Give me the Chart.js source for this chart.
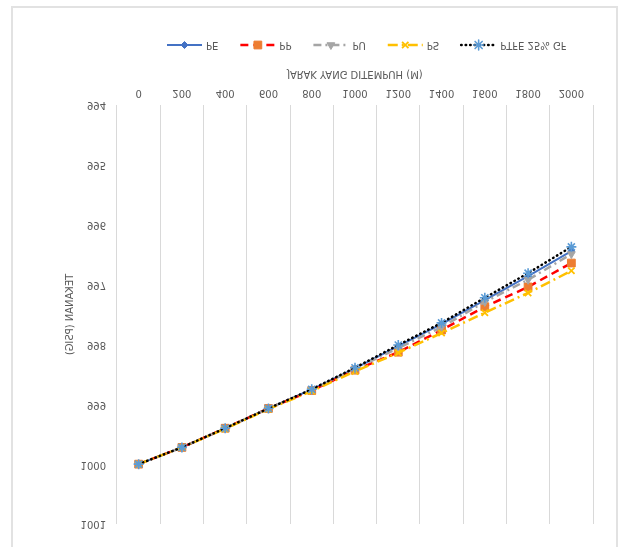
<!DOCTYPE html>
<html>
<head>
<meta charset="utf-8">
<script src="https://cdn.jsdelivr.net/npm/chart.js@4/dist/chart.umd.min.js"></script>
<style>
  html, body { margin: 0; padding: 0; background: #ffffff; overflow: hidden; }
  #wrap { position: relative; width: 618px; height: 547px; }
  #chart { position: absolute; left: 0; top: 0; transform: scaleY(-1); }
  #frame { position: absolute; left: 11px; top: 6px; width: 603px; height: 600px;
           border: 2px solid #e2e2e2; border-bottom: none; pointer-events: none; }
</style>
</head>
<body>
<div id="wrap">
  <canvas id="chart" width="618" height="547"></canvas>
  <div id="frame"></div>
</div>
<script>
// Distance travelled (m) along the pipe
const distances = [0, 200, 400, 600, 800, 1000, 1200, 1400, 1600, 1800, 2000];

// Pressure (psig) for each pipe material
const pressurePE   = [1000, 999.72, 999.40, 999.07, 998.75, 998.40, 998.03, 997.66, 997.26, 996.86, 996.44];
const pressurePP   = [1000, 999.72, 999.40, 999.07, 998.77, 998.43, 998.13, 997.76, 997.37, 997.04, 996.64];
const pressurePU   = [1000, 999.72, 999.40, 999.07, 998.76, 998.41, 998.06, 997.71, 997.29, 996.92, 996.49];
const pressurePS   = [1000, 999.72, 999.41, 999.08, 998.78, 998.45, 998.14, 997.81, 997.47, 997.14, 996.77];
const pressurePTFE = [1000, 999.72, 999.40, 999.07, 998.75, 998.39, 998.01, 997.64, 997.22, 996.81, 996.37];

const seriesNames = ['PE', 'PP', 'PU', 'PS', 'PTFE 25% GF'];

// Pressure axis range
const yMin = 994;
const yMax = 1001;

const TEXT = '#595959';
const FONT = '"DejaVu Sans", sans-serif';

// Legend drawn below the axis title: line sample with its marker, then the name
const lineLegend = {
  id: 'lineLegend',
  afterDraw(chart) {
    const ctx = chart.ctx;
    const y = 502;
    let x = 167;
    ctx.save();
    ctx.font = '10px ' + FONT;
    ctx.textBaseline = 'middle';
    ctx.textAlign = 'left';
    chart.data.datasets.forEach(ds => {
      ctx.save();
      ctx.beginPath();
      ctx.setLineDash(ds.borderDash || []);
      ctx.lineCap = ds.borderCapStyle || 'butt';
      ctx.lineWidth = ds.borderWidth;
      ctx.strokeStyle = ds.borderColor;
      ctx.moveTo(x, y);
      ctx.lineTo(x + 35, y);
      ctx.stroke();
      ctx.setLineDash([]);
      ctx.fillStyle = ds.pointBackgroundColor;
      ctx.strokeStyle = ds.pointBorderColor;
      ctx.lineWidth = ds.pointBorderWidth;
      Chart.helpers.drawPoint(ctx, {
        pointStyle: ds.pointStyle,
        radius: ds.pointRadius,
        borderWidth: ds.pointBorderWidth,
        rotation: 0
      }, x + 17.5, y);
      ctx.restore();
      ctx.fillStyle = TEXT;
      ctx.fillText(ds.label, x + 39, y);
      x += 39 + ctx.measureText(ds.label).width + 22;
    });
    ctx.restore();
  }
};

new Chart(document.getElementById('chart'), {
  type: 'line',
  data: {
    labels: distances.map(String),
    datasets: [
      {
        label: seriesNames[0], data: pressurePE,
        borderColor: '#4472C4', borderWidth: 2, borderDash: [],
        pointStyle: 'rectRot', pointRadius: 3.5, pointBorderWidth: 1,
        pointBackgroundColor: '#4472C4', pointBorderColor: '#4472C4', order: 4
      },
      {
        label: seriesNames[1], data: pressurePP,
        borderColor: '#FF0000', borderWidth: 2.5, borderDash: [8, 5],
        pointStyle: 'rect', pointRadius: 5.5, pointBorderWidth: 1,
        pointBackgroundColor: '#ED7D31', pointBorderColor: '#ED7D31', order: 3
      },
      {
        label: seriesNames[2], data: pressurePU,
        borderColor: '#A5A5A5', borderWidth: 2.5, borderDash: [8, 4, 2, 4],
        pointStyle: 'triangle', pointRadius: 4.5, pointBorderWidth: 1,
        pointBackgroundColor: '#A5A5A5', pointBorderColor: '#A5A5A5', order: 2
      },
      {
        label: seriesNames[3], data: pressurePS,
        borderColor: '#FFC000', borderWidth: 2.5, borderDash: [10, 4, 2, 4],
        pointStyle: 'crossRot', pointRadius: 4.5, pointBorderWidth: 1.8,
        pointBackgroundColor: '#FFC000', pointBorderColor: '#FFC000', order: 1
      },
      {
        label: seriesNames[4], data: pressurePTFE,
        borderColor: '#000000', borderWidth: 2.5, borderDash: [0.5, 4],
        borderCapStyle: 'round',
        pointStyle: 'star', pointRadius: 5, pointBorderWidth: 1.6,
        pointBackgroundColor: '#5B9BD5', pointBorderColor: '#5B9BD5', order: 0
      }
    ]
  },
  options: {
    responsive: false,
    animation: false,
    devicePixelRatio: 1,
    events: [],
    layout: { padding: { left: 10, right: 25, top: 23, bottom: 68 } },
    elements: { line: { tension: 0, fill: false } },
    plugins: {
      legend: { display: false },
      tooltip: { enabled: false }
    },
    scales: {
      x: {
        type: 'category',
        offset: true,
        grid: { offset: true, display: true, drawTicks: false, color: '#d9d9d9', lineWidth: 1 },
        border: { display: false },
        ticks: { color: TEXT, font: { family: FONT, size: 10 }, padding: 6, maxRotation: 0, autoSkip: false },
        title: { display: true, text: 'JARAK YANG DITEMPUH (M)', color: TEXT,
                 font: { family: FONT, size: 10 }, padding: { top: 0, bottom: 0 } },
        afterFit(scale) { scale.height = 37; }
      },
      y: {
        min: yMin, max: yMax,
        grid: { display: false, drawTicks: false },
        border: { display: false },
        ticks: { stepSize: 1, color: TEXT, font: { family: FONT, size: 10 }, padding: 11,
                 callback: v => String(v) },
        title: { display: true, text: 'TEKANAN (PSIG)', color: TEXT,
                 font: { family: FONT, size: 10 }, padding: { top: 54, bottom: 0 } },
        afterFit(scale) { scale.width = 107; }
      }
    }
  },
  plugins: [lineLegend]
});
</script>
</body>
</html>
